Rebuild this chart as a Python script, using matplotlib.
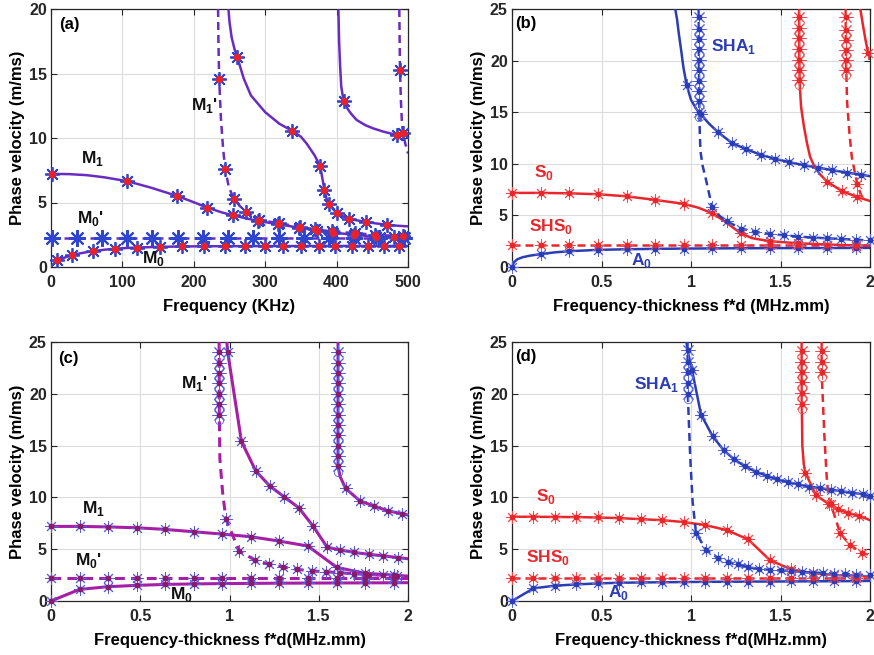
import matplotlib
matplotlib.use("Agg")
import matplotlib.pyplot as plt

plt.rcParams["font.family"] = ["Liberation Sans", "DejaVu Sans"]
plt.rcParams["font.weight"] = "bold"
plt.rcParams["mathtext.fontset"] = "custom"
plt.rcParams["mathtext.rm"] = "Liberation Sans:bold"
plt.rcParams["mathtext.bf"] = "Liberation Sans:bold"

# ---------------- Panel (a) data: frequency (kHz) vs phase velocity ----------------
A_M0_LX = [0, 3, 6, 10, 15, 20, 30, 40, 50, 60, 75, 90, 105, 120, 150, 180, 220, 300, 400, 500]
A_M0_LY = [0, 0.22, 0.38, 0.52, 0.65, 0.75, 0.92, 1.05, 1.15, 1.24, 1.34, 1.42, 1.47, 1.51, 1.56, 1.59, 1.61, 1.62, 1.63, 1.63]
A_M0_MX = [9, 30, 59, 90, 120, 152, 183, 214, 243, 272, 300, 325, 350, 375, 398, 421, 444, 466, 488]
A_M0_MY = [0.52, 0.92, 1.24, 1.42, 1.51, 1.56, 1.59, 1.6, 1.61, 1.62, 1.62, 1.62, 1.62, 1.62, 1.63, 1.63, 1.63, 1.63, 1.63]

A_M0P_LX = [0, 500]
A_M0P_LY = [2.22, 2.22]
A_M0P_MX = [1, 36, 72, 107, 142, 178, 213, 248, 283, 319, 354, 390, 425, 460, 495]
A_M0P_MY = [2.22] * 15

A_M1_LX = [0, 25, 50, 75, 107, 140, 177, 200, 219, 240, 255, 275, 292, 320, 350, 380, 410, 440, 470, 500]
A_M1_LY = [7.22, 7.2, 7.12, 6.95, 6.65, 6.15, 5.5, 5.02, 4.6, 4.22, 4.0, 3.75, 3.55, 3.3, 3.02, 2.78, 2.58, 2.42, 2.32, 2.27]
A_M1_MX = [1, 107, 177, 219, 255, 290, 318, 348, 372, 395, 425, 455, 480]
A_M1_MY = [7.22, 6.65, 5.5, 4.6, 4.0, 3.57, 3.32, 3.02, 2.8, 2.65, 2.5, 2.36, 2.3]

A_M1P_LX = [234, 234.5, 235.5, 238, 241, 244, 249, 256, 264, 273, 292, 320, 349, 370, 393, 426, 454, 493, 500]
A_M1P_LY = [20, 17.5, 14.6, 11.5, 9.2, 7.6, 6.2, 5.3, 4.75, 4.3, 3.64, 3.39, 3.1, 2.92, 2.76, 2.62, 2.5, 2.38, 2.36]
A_M1P_MX = [235.5, 244, 256, 273, 292, 320, 349, 370, 393, 426, 454, 493]
A_M1P_MY = [14.6, 7.6, 5.3, 4.3, 3.64, 3.39, 3.1, 2.92, 2.76, 2.62, 2.5, 2.38]

A_M2_LX = [248.5, 250, 253, 257, 261, 270, 280, 300, 320, 338, 350, 358, 369, 377, 380, 383, 386, 390, 395, 400, 410, 418, 430, 441, 455, 470, 485, 500]
A_M2_LY = [20, 19.0, 17.8, 16.9, 16.25, 14.6, 13.3, 12.0, 11.1, 10.55, 10.1, 9.57, 8.67, 7.84, 6.9, 5.95, 5.3, 4.9, 4.5, 4.2, 3.9, 3.72, 3.6, 3.5, 3.38, 3.28, 3.2, 3.15]
A_M2_MX = [261, 337.5, 377, 383, 390, 400, 418, 441, 470]
A_M2_MY = [16.25, 10.55, 7.84, 5.95, 4.9, 4.2, 3.72, 3.5, 3.28]

A_M3_LX = [402.5, 403.5, 405, 406.5, 408.5, 411, 415, 420, 428, 440, 451, 465, 484, 495, 500]
A_M3_LY = [20, 17.5, 15.5, 14.0, 13.3, 12.85, 12.3, 11.9, 11.4, 11.0, 10.75, 10.5, 10.23, 10.18, 10.15]
A_M3_MX = [411, 484]
A_M3_MY = [12.85, 10.23]

A_M4_LX = [487.8, 488.3, 488.8, 490, 491.5, 493, 496, 500]
A_M4_LY = [20, 17.5, 15.3, 13.0, 11.2, 10.4, 9.6, 8.8]
A_M4_MX = [488.8, 493]
A_M4_MY = [15.3, 10.4]

# ---------------- Panel (b) data ----------------
B_A0_LX = [0, 0.01, 0.03, 0.06, 0.1, 0.16, 0.24, 0.32, 0.48, 0.64, 0.8, 1.0, 1.2, 1.5, 2.0]
B_A0_LY = [0, 0.45, 0.75, 0.95, 1.1, 1.25, 1.42, 1.53, 1.66, 1.72, 1.76, 1.79, 1.81, 1.83, 1.85]
B_GRID_X = [0, 0.16, 0.32, 0.48, 0.64, 0.8, 0.96, 1.12, 1.28, 1.44, 1.6, 1.76, 1.92]
B_A0_MY = [0, 1.25, 1.53, 1.66, 1.72, 1.76, 1.78, 1.8, 1.81, 1.82, 1.83, 1.84, 1.85]

B_SHS0_LX = [0, 2]
B_SHS0_LY = [2.17, 2.17]
B_SHS0_MY = [2.17] * 13

B_S0_LX = [0, 0.16, 0.32, 0.48, 0.64, 0.8, 0.96, 1.04, 1.12, 1.19, 1.24, 1.28, 1.34, 1.44, 1.6, 1.76, 2.0]
B_S0_LY = [7.18, 7.18, 7.14, 7.05, 6.85, 6.5, 6.12, 5.75, 5.2, 4.4, 3.75, 3.26, 2.8, 2.5, 2.3, 2.18, 2.05]
B_S0_MY = [7.18, 7.18, 7.14, 7.05, 6.85, 6.5, 6.12, 5.2, 3.26, 2.5, 2.3, 2.18, 2.08]

B_SHA1D_LX = [1.043, 1.044, 1.046, 1.049, 1.053, 1.065, 1.08, 1.1, 1.117, 1.16, 1.2, 1.28, 1.36, 1.44, 1.52, 1.6, 1.68, 1.76, 1.84, 1.92, 2.0]
B_SHA1D_LY = [25, 20, 16, 13, 11.2, 9.8, 8.75, 7.2, 5.85, 4.95, 4.43, 3.72, 3.4, 3.2, 3.07, 2.95, 2.85, 2.78, 2.72, 2.63, 2.58]
B_SHA1D_SX = 1.043
B_SHA1D_SY = [24.2, 23.1, 22.1, 21.1, 20.1, 19.1, 18.0, 17.1, 16.1, 15.0]
B_SHA1D_MX = [1.117, 1.2, 1.28, 1.36, 1.44, 1.52, 1.6, 1.68, 1.76, 1.84, 1.92, 2.0]
B_SHA1D_MY = [5.85, 4.43, 3.72, 3.4, 3.2, 3.07, 2.95, 2.85, 2.78, 2.72, 2.63, 2.58]

B_SHA1_LX = [0.912, 0.922, 0.932, 0.945, 0.958, 0.976, 1.0, 1.03, 1.056, 1.1, 1.149, 1.227, 1.307, 1.39, 1.47, 1.55, 1.63, 1.708, 1.79, 1.87, 1.95, 2.0]
B_SHA1_LY = [25, 24, 22.6, 21, 19.3, 17.6, 16.2, 15.3, 14.78, 13.9, 13.1, 12.03, 11.42, 10.87, 10.48, 10.16, 9.86, 9.64, 9.38, 9.15, 8.95, 8.8]
B_SHA1_MX = [0.976, 1.056, 1.149, 1.227, 1.307, 1.39, 1.47, 1.55, 1.63, 1.708, 1.79, 1.87, 1.95]
B_SHA1_MY = [17.6, 14.78, 13.1, 12.03, 11.42, 10.87, 10.48, 10.16, 9.86, 9.64, 9.38, 9.15, 8.95]

B_S1_LX = [1.604, 1.605, 1.607, 1.615, 1.631, 1.648, 1.665, 1.69, 1.72, 1.76, 1.842, 1.927, 2.0]
B_S1_LY = [25, 20, 17.8, 15.5, 13.6, 12.0, 10.7, 9.7, 9.0, 8.27, 7.37, 6.79, 6.4]
B_S1_SX = 1.605
B_S1_SY = [24.2, 23.2, 22.2, 21.1, 20.1, 19.1, 18.1]
B_S1_MX = [1.76, 1.842, 1.927]
B_S1_MY = [8.27, 7.37, 6.79]

B_SH1_LX = [1.864, 1.866, 1.872, 1.885, 1.898, 1.915, 1.93, 1.945, 1.958]
B_SH1_LY = [25, 20, 16, 13, 10.7, 9.2, 8.0, 7.2, 6.7]
B_SH1_SX = 1.864
B_SH1_SY = [24.2, 23.0, 22.0, 21.0, 20.1, 19.1]
B_SH1_MX = [1.93]
B_SH1_MY = [8.0]

B_S2_LX = [1.946, 1.96, 1.975, 1.99, 2.0]
B_S2_LY = [25, 23.5, 22, 20.7, 20.2]
B_S2_MX = [1.99]
B_S2_MY = [20.7]

# ---------------- Panel (c) data ----------------
C_X = [0, 0.16, 0.32, 0.48, 0.64, 0.8, 0.96, 1.12, 1.28, 1.44, 1.6, 1.76, 1.92, 2.0]
C_M0_Y = [0, 1.12, 1.38, 1.51, 1.6, 1.65, 1.68, 1.7, 1.72, 1.73, 1.74, 1.75, 1.76, 1.77]
C_M0P_Y = [2.25] * 14
C_M1_Y = [7.2, 7.2, 7.15, 7.07, 6.91, 6.68, 6.46, 6.2, 5.78, 5.3, 3.25, 2.67, 2.5, 2.4]

C_M2_LX = [0.985, 0.99, 1.067, 1.147, 1.226, 1.306, 1.388, 1.468, 1.547, 1.62, 1.70, 1.78, 1.86, 1.944, 2.0]
C_M2_LY = [25, 24, 15.4, 12.56, 11.09, 10.06, 9.0, 7.23, 5.2, 4.92, 4.69, 4.5, 4.37, 4.18, 4.08]

C_M1P_LX = [0.942, 0.943, 0.946, 0.961, 0.98, 1.054, 1.142, 1.222, 1.3, 1.38, 1.46, 1.54, 1.62, 1.7, 1.78, 1.86, 1.94, 2.0]
C_M1P_LY = [25, 18, 13.75, 10.54, 7.9, 4.85, 3.95, 3.53, 3.28, 3.05, 2.9, 2.82, 2.72, 2.62, 2.55, 2.48, 2.4, 2.36]
C_M1P_SX = 0.942
C_M1P_SY = [24, 23, 22, 21, 20, 19, 18]

C_M3_LX = [1.608, 1.608, 1.62, 1.651, 1.73, 1.81, 1.888, 1.968, 2.0]
C_M3_LY = [25, 13, 12, 10.86, 9.67, 9.16, 8.7, 8.42, 8.3]
C_M3_SX = 1.608
C_M3_SY = [24, 23, 22, 21, 20, 19, 18, 17, 16, 15, 14, 13]

# ---------------- Panel (d) data ----------------
D_X = [0, 0.12, 0.24, 0.36, 0.48, 0.6, 0.72, 0.84, 0.96, 1.08, 1.2, 1.32, 1.44, 1.56, 1.68, 1.8, 1.92, 2.0]
D_A0_Y = [0, 1.22, 1.48, 1.6, 1.7, 1.76, 1.79, 1.81, 1.83, 1.85, 1.86, 1.87, 1.88, 1.89, 1.9, 1.91, 1.92, 1.94]
D_SHS0_Y = [2.18] * 18
D_S0_Y = [8.13, 8.13, 8.11, 8.1, 8.06, 8.0, 7.9, 7.8, 7.62, 7.33, 6.84, 5.94, 3.95, 3.05, 2.68, 2.5, 2.42, 2.38]

D_SHA1D_LX = [0.981, 0.982, 0.996, 1.009, 1.028, 1.084, 1.149, 1.205, 1.264, 1.32, 1.38, 1.44, 1.5, 1.56, 1.62, 1.68, 1.74, 1.8, 1.86, 1.92, 2.0]
D_SHA1D_LY = [25, 20, 13.75, 9.58, 6.59, 4.92, 4.18, 3.79, 3.53, 3.25, 3.1, 3.0, 2.95, 2.87, 2.8, 2.75, 2.7, 2.65, 2.6, 2.55, 2.5]
D_SHA1D_SX = 0.981
D_SHA1D_SY = [24.2, 23.1, 22.1, 21.0, 20.0]

D_SHA1_LX = [0.975, 0.98, 1.006, 1.056, 1.121, 1.182, 1.242, 1.302, 1.363, 1.425, 1.48, 1.54, 1.6, 1.66, 1.72, 1.78, 1.84, 1.9, 1.96, 2.0]
D_SHA1_LY = [25, 24.2, 22.27, 18.0, 15.9, 14.56, 13.66, 13.0, 12.47, 12.08, 11.75, 11.48, 11.25, 11.05, 10.9, 10.75, 10.6, 10.45, 10.3, 10.15]

D_S1_LX = [1.618, 1.619, 1.622, 1.63, 1.639, 1.698, 1.773, 1.82, 1.875, 1.94, 2.0]
D_S1_LY = [25, 19, 15, 13.2, 12.37, 10.22, 9.32, 8.87, 8.5, 8.23, 7.8]
D_S1_SX = 1.618
D_S1_SY = [24.1, 23.1, 22.1, 21.1, 20.1, 19.05]
D_S1_MX = [1.639, 1.698, 1.773, 1.82, 1.875, 1.94]
D_S1_MY = [12.37, 10.22, 9.32, 8.87, 8.5, 8.23]

D_SH1_LX = [1.73, 1.73, 1.745, 1.758, 1.767, 1.78, 1.834, 1.89, 1.953, 2.0]
D_SH1_LY = [25, 22, 16, 12, 10.2, 9.4, 6.52, 5.4, 4.66, 4.43]
D_SH1_SX = 1.73
D_SH1_SY = [24.1, 23.1, 22.1]
D_SH1_MX = [1.78, 1.834, 1.89, 1.953]
D_SH1_MY = [9.4, 6.52, 5.4, 4.66]

# ---------------- colours ----------------
A_LINE = "#6A2CC0"
A_STAR = "#2F45D0"
A_DOT = "#E8222A"
BLUE = "#2B3DB5"
BLUE_STAR = "#5868DC"
RED = "#E8262B"
RED_STAR = "#EE5050"
C_LINE = "#A61EA6"
C_STAR = "#5560E0"
C_DOT = "#8A1A6A"

DASH = (3.2, 2.0)
AST = (8, 2, 0)

fig = plt.figure(figsize=(8.74, 6.55), dpi=100)
W, H = 874.0, 655.0
ax_a = fig.add_axes([51 / W, 1 - 267 / H, 357 / W, 258 / H])
ax_b = fig.add_axes([512 / W, 1 - 267 / H, 358 / W, 258 / H])
ax_c = fig.add_axes([51 / W, 1 - 601 / H, 357 / W, 259 / H])
ax_d = fig.add_axes([512 / W, 1 - 601 / H, 358 / W, 259 / H])


def line(ax, x, y, c, dashed=False, lw=1.8):
    if dashed:
        ax.plot(x, y, color=c, lw=lw, ls="--", dashes=DASH, zorder=3)
    else:
        ax.plot(x, y, color=c, lw=lw, zorder=3)


def stars(ax, x, y, c, ms=9, mew=0.7):
    ax.plot(x, y, ls="none", marker=AST, ms=ms, mec=c, mfc="none", mew=mew, zorder=4, clip_on=False)


def dots(ax, x, y, c, ms=4.2):
    ax.plot(x, y, ls="none", marker="o", ms=ms, mec=c, mfc=c, mew=0, zorder=5, clip_on=False)


def circles(ax, x, y, c, ms=6):
    ax.plot(x, y, ls="none", marker="o", ms=ms, mec=c, mfc="none", mew=0.6, zorder=4, clip_on=False)


def stack(ax, sx, sy, star_c, dot_c, circ=True):
    xs = [sx] * len(sy)
    stars(ax, xs, sy, star_c, ms=10, mew=0.7)
    dots(ax, xs, sy, dot_c)
    if circ:
        mid = [v - 0.5 for v in sy[1:]]
        circles(ax, [sx] * len(mid), mid, star_c)


def style(ax, xlim, ylim, xt, xtl, yt, xlabel, tag, tagpos):
    ax.set_xlim(*xlim)
    ax.set_ylim(*ylim)
    ax.set_xticks(xt)
    ax.set_xticklabels(xtl)
    ax.set_yticks(yt)
    ax.set_yticklabels([str(v) for v in yt])
    ax.grid(True, color="#DCDCDC", lw=0.8, zorder=0)
    ax.set_axisbelow(True)
    ax.tick_params(direction="in", top=True, right=True, length=4, width=0.8,
                   labelsize=11.5, colors="#262626")
    ax.tick_params(axis="x", pad=6)
    ax.tick_params(axis="y", pad=3)
    for lab in ax.get_xticklabels() + ax.get_yticklabels():
        lab.set_fontweight("bold")
    for s in ax.spines.values():
        s.set_linewidth(0.9)
        s.set_color("#262626")
    ax.set_xlabel(xlabel, fontsize=12, fontweight="bold", labelpad=6)
    ax.set_ylabel("Phase velocity (m/ms)", fontsize=12, fontweight="bold", labelpad=3)
    ax.text(tagpos[0], tagpos[1], tag, transform=ax.transAxes, fontsize=12,
            fontweight="bold", ha="left", va="center", zorder=6)


def label(ax, x, y, s, c, fs=12.5):
    ax.text(x, y, s, color=c, fontsize=fs, fontweight="bold", ha="left",
            va="baseline", zorder=6)


# ---------------- panel (a) ----------------
ax = ax_a
line(ax, A_M0_LX, A_M0_LY, A_LINE)
line(ax, A_M0P_LX, A_M0P_LY, A_LINE, dashed=True)
line(ax, A_M1_LX, A_M1_LY, A_LINE)
line(ax, A_M1P_LX, A_M1P_LY, A_LINE, dashed=True)
line(ax, A_M2_LX, A_M2_LY, A_LINE)
line(ax, A_M3_LX, A_M3_LY, A_LINE)
line(ax, A_M4_LX, A_M4_LY, A_LINE, dashed=True)
stars(ax, A_M0P_MX, A_M0P_MY, A_STAR, ms=12, mew=1.5)
for mx, my in [(A_M0_MX, A_M0_MY), (A_M1_MX, A_M1_MY), (A_M1P_MX, A_M1P_MY),
               (A_M2_MX, A_M2_MY), (A_M3_MX, A_M3_MY), (A_M4_MX, A_M4_MY)]:
    stars(ax, mx, my, A_STAR, ms=10.5, mew=1.3)
    dots(ax, mx, my, A_DOT, ms=5.5)
style(ax, (0, 500), (0, 20), [0, 100, 200, 300, 400, 500],
      ["0", "100", "200", "300", "400", "500"], [0, 5, 10, 15, 20],
      "Frequency (KHz)", "(a)", (0.022, 0.938))
label(ax, 195.6, 12.2, r"M$_\mathbf{1}$'", "#111111")
label(ax, 42, 8.04, r"M$_\mathbf{1}$", "#111111")
label(ax, 36.8, 3.39, r"M$_\mathbf{0}$'", "#111111")
label(ax, 128, 0.29, r"M$_\mathbf{0}$", "#111111")

# ---------------- panel (b) ----------------
ax = ax_b
line(ax, B_A0_LX, B_A0_LY, BLUE)
line(ax, B_SHS0_LX, B_SHS0_LY, RED, dashed=True)
line(ax, B_S0_LX, B_S0_LY, RED)
line(ax, B_SHA1D_LX, B_SHA1D_LY, BLUE, dashed=True)
line(ax, B_SHA1_LX, B_SHA1_LY, BLUE)
line(ax, B_S1_LX, B_S1_LY, RED)
line(ax, B_SH1_LX, B_SH1_LY, RED, dashed=True)
line(ax, B_S2_LX, B_S2_LY, RED)
for mx, my, sc, dc in [(B_GRID_X, B_A0_MY, BLUE_STAR, BLUE), (B_GRID_X, B_SHS0_MY, RED_STAR, RED),
                       (B_GRID_X, B_S0_MY, RED_STAR, RED), (B_SHA1D_MX, B_SHA1D_MY, BLUE_STAR, BLUE),
                       (B_SHA1_MX, B_SHA1_MY, BLUE_STAR, BLUE), (B_S1_MX, B_S1_MY, RED_STAR, RED),
                       (B_SH1_MX, B_SH1_MY, RED_STAR, RED), (B_S2_MX, B_S2_MY, RED_STAR, RED)]:
    stars(ax, mx, my, sc)
    dots(ax, mx, my, dc)
stack(ax, B_SHA1D_SX, B_SHA1D_SY, BLUE_STAR, BLUE)
stack(ax, B_S1_SX, B_S1_SY, RED_STAR, RED)
stack(ax, B_SH1_SX, B_SH1_SY, RED_STAR, RED)
style(ax, (0, 2), (0, 25), [0, 0.5, 1, 1.5, 2], ["0", "0.5", "1", "1.5", "2"],
      [0, 5, 10, 15, 20, 25], "Frequency-thickness f*d (MHz.mm)", "(b)", (0.01, 0.945))
label(ax, 1.112, 20.96, r"SHA$_\mathbf{1}$", BLUE)
label(ax, 0.121, 8.73, r"S$_\mathbf{0}$", RED)
label(ax, 0.097, 3.49, r"SHS$_\mathbf{0}$", RED)
label(ax, 0.665, 0.16, r"A$_\mathbf{0}$", BLUE)

# ---------------- panel (c) ----------------
ax = ax_c
line(ax, C_X, C_M0_Y, C_LINE, lw=2.2)
line(ax, C_X, C_M0P_Y, C_LINE, dashed=True, lw=2.2)
line(ax, C_X, C_M1_Y, C_LINE, lw=2.2)
line(ax, C_M2_LX, C_M2_LY, C_LINE, lw=2.2)
line(ax, C_M1P_LX, C_M1P_LY, C_LINE, dashed=True, lw=2.2)
line(ax, C_M3_LX, C_M3_LY, C_LINE, lw=2.2)
for mx, my in [(C_X[:-1], C_M0_Y[:-1]), (C_X[:-1], C_M0P_Y[:-1]), (C_X[:-1], C_M1_Y[:-1]),
               (C_M2_LX[1:-1], C_M2_LY[1:-1]), (C_M1P_LX[4:-1], C_M1P_LY[4:-1]),
               (C_M3_LX[3:-1], C_M3_LY[3:-1])]:
    stars(ax, mx, my, C_STAR)
    dots(ax, mx, my, C_DOT)
stack(ax, C_M1P_SX, C_M1P_SY, C_STAR, C_DOT)
stack(ax, C_M3_SX, C_M3_SY, C_STAR, C_DOT)
style(ax, (0, 2), (0, 25), [0, 0.5, 1, 1.5, 2], ["0", "0.5", "1", "1.5", "2"],
      [0, 5, 10, 15, 20, 25], "Frequency-thickness f*d(MHz.mm)", "(c)", (0.02, 0.937))
label(ax, 0.731, 20.57, r"M$_\mathbf{1}$'", "#111111")
label(ax, 0.174, 8.45, r"M$_\mathbf{1}$", "#111111")
label(ax, 0.136, 3.47, r"M$_\mathbf{0}$'", "#111111")
label(ax, 0.666, 0.19, r"M$_\mathbf{0}$", "#111111")

# ---------------- panel (d) ----------------
ax = ax_d
line(ax, D_X, D_A0_Y, BLUE)
line(ax, D_X, D_SHS0_Y, RED, dashed=True)
line(ax, D_X, D_S0_Y, RED)
line(ax, D_SHA1D_LX, D_SHA1D_LY, BLUE, dashed=True)
line(ax, D_SHA1_LX, D_SHA1_LY, BLUE)
line(ax, D_S1_LX, D_S1_LY, RED)
line(ax, D_SH1_LX, D_SH1_LY, RED, dashed=True)
for mx, my, sc, dc in [(D_X[:-1], D_A0_Y[:-1], BLUE_STAR, BLUE), (D_X[:-1], D_SHS0_Y[:-1], RED_STAR, RED),
                       (D_X[:-1], D_S0_Y[:-1], RED_STAR, RED),
                       (D_SHA1D_LX[4:], D_SHA1D_LY[4:], BLUE_STAR, BLUE),
                       (D_SHA1_LX[2:], D_SHA1_LY[2:], BLUE_STAR, BLUE),
                       (D_S1_MX, D_S1_MY, RED_STAR, RED), (D_SH1_MX, D_SH1_MY, RED_STAR, RED)]:
    stars(ax, mx, my, sc)
    dots(ax, mx, my, dc)
stack(ax, D_SHA1D_SX, D_SHA1D_SY, BLUE_STAR, BLUE)
stack(ax, D_S1_SX, D_S1_SY, RED_STAR, RED)
stack(ax, D_SH1_SX, D_SH1_SY, RED_STAR, RED)
style(ax, (0, 2), (0, 25), [0, 0.5, 1, 1.5, 2], ["0", "0.5", "1", "1.5", "2"],
      [0, 5, 10, 15, 20, 25], "Frequency-thickness f*d(MHz.mm)", "(d)", (0.01, 0.943))
label(ax, 0.683, 20.5, r"SHA$_\mathbf{1}$", BLUE)
label(ax, 0.134, 9.67, r"S$_\mathbf{0}$", RED)
label(ax, 0.078, 3.73, r"SHS$_\mathbf{0}$", RED)
label(ax, 0.534, 0.42, r"A$_\mathbf{0}$", BLUE)

fig.savefig("out.png", dpi=100)
